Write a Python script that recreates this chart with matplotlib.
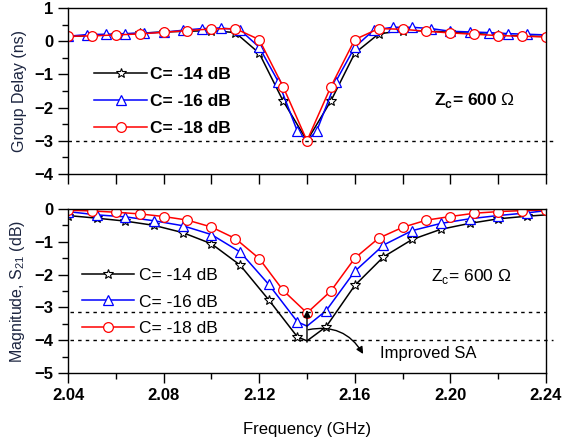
import matplotlib
matplotlib.use("Agg")
import matplotlib.pyplot as plt
from matplotlib.ticker import MultipleLocator

plt.rcParams['font.family'] = ['Liberation Sans', 'DejaVu Sans']
plt.rcParams['mathtext.fontset'] = 'custom'
plt.rcParams['mathtext.rm'] = 'Liberation Sans'
plt.rcParams['mathtext.bf'] = 'Liberation Sans:bold'

# ---------------- data: group delay (ns) ----------------
gd_f_red = [2.04, 2.05, 2.06, 2.07, 2.08, 2.09, 2.10, 2.11, 2.12, 2.13, 2.14,
            2.15, 2.16, 2.17, 2.18, 2.19, 2.20, 2.21, 2.22, 2.23, 2.24]
gd_red = [0.15, 0.16, 0.19, 0.22, 0.27, 0.32, 0.37, 0.38, 0.05, -1.37, -3.0,
          -1.37, 0.05, 0.38, 0.36, 0.30, 0.25, 0.21, 0.17, 0.15, 0.13]
gd_f_black = gd_f_red
gd_black = [0.14, 0.17, 0.20, 0.24, 0.28, 0.30, 0.32, 0.26, -0.36, -1.80, -3.0,
            -1.80, -0.36, 0.22, 0.32, 0.31, 0.27, 0.23, 0.19, 0.16, 0.14]
gd_f_blue = [2.04, 2.048, 2.056, 2.064, 2.072, 2.080, 2.088, 2.096, 2.104, 2.112,
             2.120, 2.128, 2.136, 2.140, 2.144, 2.152, 2.160, 2.168, 2.176, 2.184,
             2.192, 2.200, 2.208, 2.216, 2.224, 2.232, 2.24]
gd_blue = [0.15, 0.20, 0.21, 0.23, 0.25, 0.27, 0.33, 0.38, 0.40, 0.34,
           -0.18, -1.22, -2.72, -3.0, -2.72, -1.22, -0.18, 0.34, 0.42, 0.42,
           0.38, 0.30, 0.28, 0.26, 0.23, 0.21, 0.19]
gd_blue_nomark = [2.140, 2.24]

# ---------------- data: |S21| (dB) ----------------
s_f_red = gd_f_red
s_red = [-0.04, -0.06, -0.10, -0.15, -0.23, -0.34, -0.55, -0.90, -1.51, -2.48, -3.17,
         -2.50, -1.50, -0.89, -0.56, -0.34, -0.23, -0.13, -0.08, -0.05, -0.03]
s_f_bk = [2.040, 2.052, 2.064, 2.076, 2.088, 2.100, 2.112, 2.124, 2.136, 2.140,
          2.148, 2.160, 2.172, 2.184, 2.196, 2.208, 2.220, 2.232, 2.240]
s_black = [-0.20, -0.28, -0.37, -0.50, -0.72, -1.06, -1.71, -2.77, -3.90, -4.02,
           -3.59, -2.33, -1.46, -0.93, -0.62, -0.44, -0.30, -0.22, -0.18]
s_blue = [-0.08, -0.18, -0.24, -0.36, -0.51, -0.78, -1.31, -2.30, -3.44, -3.57,
          -3.10, -1.90, -1.10, -0.66, -0.44, -0.30, -0.20, -0.12, -0.05]
s_nomark = [2.140, 2.240]

labels = ['C= -14 dB', 'C= -16 dB', 'C= -18 dB']
xticks = [2.04, 2.08, 2.12, 2.16, 2.20, 2.24]
xticklabels = ['2.04', '2.08', '2.12', '2.16', '2.20', '2.24']
ref_gd = -3.0
ref_s = [-3.15, -4.0]

fig = plt.figure(figsize=(5.62, 4.47), dpi=100)
ax1 = fig.add_axes([0.121, 0.611, 0.8505, 0.371])
ax2 = fig.add_axes([0.121, 0.1655, 0.8505, 0.367])

ms = 7
def mk_idx(xs, skip):
    return [i for i, x in enumerate(xs) if all(abs(x - s) > 1e-9 for s in skip)]

# top panel
ax1.plot(gd_f_black, gd_black, color='black', lw=1.1, marker='*', ms=7,
         mfc='white', mec='black', mew=0.8, label=labels[0])
ax1.plot(gd_f_blue, gd_blue, color='blue', lw=1.1, marker='^', ms=7.5,
         mfc='white', mec='blue', mew=0.9, markevery=mk_idx(gd_f_blue, gd_blue_nomark),
         label=labels[1])
ax1.plot(gd_f_red, gd_red, color='red', lw=1.1, marker='o', ms=ms,
         mfc='white', mec='red', mew=0.9, label=labels[2])
ax1.plot([2.04, 2.2428], [ref_gd, ref_gd], color='black', lw=1.0,
         ls=(0, (2.5, 3)), clip_on=False)

# bottom panel
ax2.plot(s_f_bk, s_black, color='black', lw=1.1, marker='*', ms=7,
         mfc='white', mec='black', mew=0.8, markevery=mk_idx(s_f_bk, s_nomark),
         label=labels[0])
ax2.plot(s_f_bk, s_blue, color='blue', lw=1.1, marker='^', ms=7.5,
         mfc='white', mec='blue', mew=0.9, markevery=mk_idx(s_f_bk, s_nomark),
         label=labels[1])
ax2.plot(s_f_red, s_red, color='red', lw=1.1, marker='o', ms=ms,
         mfc='white', mec='red', mew=0.9, label=labels[2])
for r, ext in zip(ref_s, [2.24, 2.2428]):
    ax2.plot([2.041, ext], [r, r], color='black', lw=1.0,
             ls=(0, (2.5, 3)), clip_on=False)

# arrows
ax2.annotate('', xy=(2.14, -3.08), xytext=(2.14, -4.06),
             arrowprops=dict(arrowstyle='-|>', color='black', lw=1.0,
                             mutation_scale=10, shrinkA=0, shrinkB=0))
ax2.annotate('', xy=(2.1635, -4.42), xytext=(2.1405, -3.68),
             arrowprops=dict(arrowstyle='-|>', color='black', lw=1.0,
                             mutation_scale=10, shrinkA=0, shrinkB=0,
                             connectionstyle='arc3,rad=-0.35'))
ax2.text(2.1705, -4.42, 'Improved SA', fontsize=12,
         va='center', ha='left')

for ax in (ax1, ax2):
    ax.set_xlim(2.04, 2.24)
    ax.xaxis.set_major_locator(MultipleLocator(0.04))
    ax.xaxis.set_minor_locator(MultipleLocator(0.02))
    ax.yaxis.set_major_locator(MultipleLocator(1))
    ax.yaxis.set_minor_locator(MultipleLocator(0.5))
    ax.tick_params(which='major', direction='out', length=7, width=1.0,
                   labelsize=12, top=False, right=False)
    ax.tick_params(which='minor', direction='out', length=4, width=1.0,
                   top=False, right=False)
    for sp in ax.spines.values():
        sp.set_linewidth(1.0)
    for lab in ax.get_yticklabels():
        lab.set_fontweight('bold')

ax1.set_ylim(-4, 1)
ax1.tick_params(axis='x', which='both', labelbottom=False, length=7)
ax1.set_ylabel('Group Delay (ns)', fontsize=11.5, color='#1c2540')
ax1.text(2.2103, -1.78, r'Z$_\mathbf{c}$= 600 $\Omega$', fontsize=12.5,
         fontweight='bold', ha='center', va='center')
leg1 = ax1.legend(loc='upper left', bbox_to_anchor=(0.04, 0.687), frameon=False,
                  prop={'weight': 'bold', 'size': 12.5}, handlelength=3.05,
                  handletextpad=0.15, labelspacing=0.67, borderaxespad=0)

ax2.set_ylim(-5, 0)
ax2.set_xticks(xticks)
ax2.set_xticklabels(xticklabels, fontweight='bold')
ax2.set_ylabel(r'Magnitude, S$_{21}$ (dB)', fontsize=11.5, color='#1c2540')
ax2.set_xlabel('Frequency (GHz)', fontsize=12, labelpad=14)
ax2.text(2.2086, -2.07, r'Z$_\mathrm{c}$= 600 $\Omega$', fontsize=12.5,
         ha='center', va='center')
leg2 = ax2.legend(loc='upper left', bbox_to_anchor=(0.015, 0.683), frameon=False,
                  prop={'size': 12.5}, handlelength=3.0,
                  handletextpad=0.3, labelspacing=0.65, borderaxespad=0)

ax1.yaxis.set_label_coords(-0.086, 0.5)
ax2.yaxis.set_label_coords(-0.086, 0.5)

fig.savefig('out.png', dpi=100)
